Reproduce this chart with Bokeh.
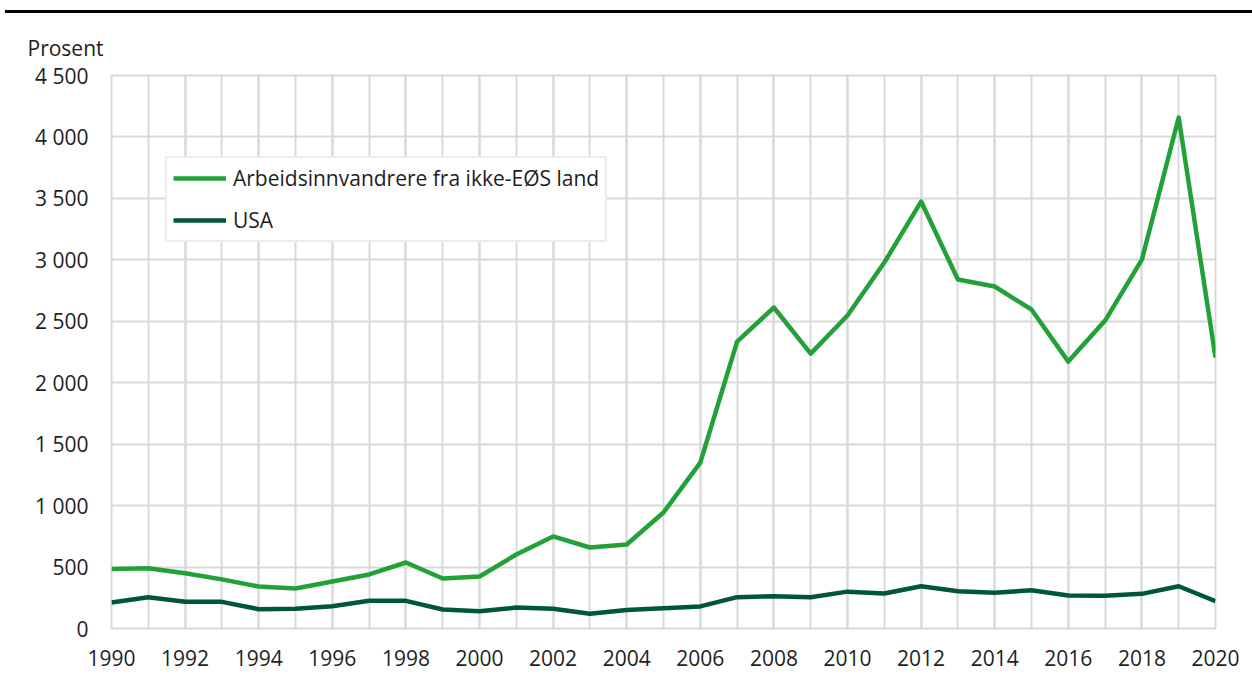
from bokeh.plotting import figure
from bokeh.models import (FixedTicker, Legend, LegendItem, Div, Range1d)
from bokeh.layouts import column
from bokeh.embed import file_html
from bokeh.resources import INLINE

years = list(range(1990, 2021))
ikke_eos = [485, 490, 450, 400, 342, 325, 382, 440, 537, 407, 423, 602, 749, 659, 683,
            944, 1350, 2335, 2612, 2237, 2547, 2978, 3474, 2840, 2783, 2596, 2172, 2506,
            3002, 4158, 2205]
usa = [211, 255, 217, 217, 157, 160, 181, 225, 225, 155, 140, 170, 160, 120, 150,
       165, 180, 255, 262, 255, 300, 285, 344, 303, 290, 312, 268, 266, 282, 344, 222]

series_names = ["Arbeidsinnvandrere fra ikke-EØS land", "USA"]
y_tick_values = [0, 500, 1000, 1500, 2000, 2500, 3000, 3500, 4000, 4500]
y_tick_labels = ["0", "500", "1 000", "1 500", "2 000", "2 500", "3 000", "3 500", "4 000", "4 500"]
x_tick_values = list(range(1990, 2021, 2))
unit_label = "Prosent"

FONT = "Open Sans"
GRID = "#d9d9d9"
TXT = "#1e1e1e"
GREEN = "#22a139"
DARK = "#00553f"
FS = "21px"

p = figure(width=1244, height=664, output_backend="svg", toolbar_location=None,
           x_range=Range1d(1990, 2020), y_range=Range1d(0, 4500),
           min_border_left=111, min_border_right=29, min_border_top=62, min_border_bottom=49,
           title=unit_label)

p.title.text_font = FONT
p.title.text_font_size = FS
p.title.text_font_style = "normal"
p.title.text_color = TXT
p.title.align = "left"
p.title.offset = -84
p.title.standoff = 28

p.outline_line_color = GRID
p.outline_line_width = 2

p.xaxis.ticker = FixedTicker(ticks=x_tick_values, minor_ticks=years)
p.yaxis.ticker = FixedTicker(ticks=y_tick_values)
p.yaxis.major_label_overrides = dict(zip(y_tick_values, y_tick_labels))

for ax in (p.xaxis[0], p.yaxis[0]):
    ax.axis_line_color = None
    ax.major_tick_line_color = None
    ax.minor_tick_line_color = None
    ax.major_tick_out = 0
    ax.minor_tick_out = 0
    ax.major_label_text_font = FONT
    ax.major_label_text_font_size = FS
    ax.major_label_text_color = TXT
p.xaxis.major_label_standoff = 21
p.yaxis.major_label_standoff = 23

p.xgrid.grid_line_color = GRID
p.xgrid.grid_line_width = 2
p.xgrid.minor_grid_line_color = GRID
p.xgrid.minor_grid_line_width = 2
p.ygrid.grid_line_color = GRID
p.ygrid.grid_line_width = 2

r1 = p.line(years, ikke_eos, line_color=GREEN, line_width=4.5, line_join="round")
r2 = p.line(years, usa, line_color=DARK, line_width=4.5, line_join="round")

legend = Legend(items=[LegendItem(label=series_names[0], renderers=[r1]),
                       LegendItem(label=series_names[1], renderers=[r2])],
                location=(54, 386), orientation="vertical")
legend.border_line_color = GRID
legend.border_line_width = 2
legend.background_fill_color = "white"
legend.background_fill_alpha = 1
legend.label_text_font = FONT
legend.label_text_font_size = FS
legend.label_text_color = TXT
legend.glyph_width = 53
legend.glyph_height = 20
legend.label_height = 20
legend.label_standoff = 7
legend.padding = 6
legend.spacing = 14
legend.margin = 0
p.add_layout(legend, "center")

bar = Div(width=1247, height=3, margin=(10, 0, 0, 5), styles={"background-color": "black"})

layout = column(bar, p, spacing=0)
open("out.html", "w").write(file_html(layout, INLINE))
